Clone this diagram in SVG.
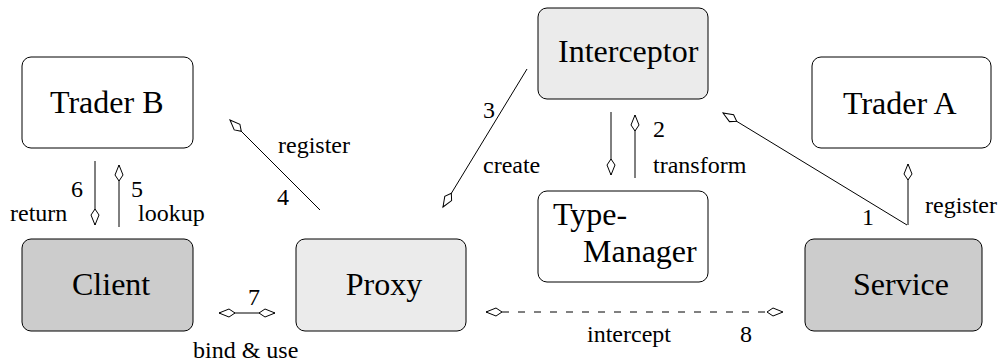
<svg xmlns="http://www.w3.org/2000/svg" width="1001" height="363" viewBox="0 0 1001 363">
<style>
.box{stroke:#000;stroke-width:1;}
.w{fill:#fff;}
.g1{fill:#ebebeb;}
.g2{fill:#cccccc;}
.c{stroke:#000;stroke-width:1;fill:none;}
.d{stroke-dasharray:7 9;}
</style>
<defs>
<marker id="ah" markerUnits="userSpaceOnUse" markerWidth="20" markerHeight="20" refX="0" refY="0" orient="auto-start-reverse" overflow="visible">
<path d="M0,0 L-10,-4 L-16,0 L-10,4 Z" fill="#fff" stroke="#000" stroke-width="1"/>
</marker>
</defs>
<rect width="1001" height="363" fill="#fff"/>
<g font-family="Liberation Serif, Times New Roman, serif" font-size="32" fill="#000">
<g id="traderB"><rect class="box w" x="22" y="57" width="171" height="91" rx="9"/><text x="50" y="113">Trader B</text></g>
<g id="client"><rect class="box g2" x="22" y="239" width="171" height="92" rx="9"/><text x="72" y="295">Client</text></g>
<g id="proxy"><rect class="box g1" x="296" y="239" width="170" height="92" rx="9"/><text x="384" y="295" text-anchor="middle">Proxy</text></g>
<g id="interceptor"><rect class="box g1" x="538" y="8" width="170" height="91" rx="9"/><text x="558" y="62">Interceptor</text></g>
<g id="typemanager"><rect class="box w" x="538" y="191" width="170" height="91" rx="9"/><text x="553" y="225">Type-</text><text x="583" y="262">Manager</text></g>
<g id="traderA"><rect class="box w" x="812" y="57" width="179" height="91" rx="9"/><text x="843" y="114">Trader A</text></g>
<g id="service"><rect class="box g2" x="805" y="239" width="177" height="92" rx="9"/><text x="853" y="295">Service</text></g>
</g>
<g id="connectors" font-family="Liberation Serif, Times New Roman, serif" font-size="24" fill="#000">
<line class="c" x1="95" y1="161" x2="95" y2="225" marker-end="url(#ah)"/>
<line class="c" x1="119" y1="227" x2="119" y2="165" marker-end="url(#ah)"/>
<line class="c" x1="320" y1="210" x2="230" y2="120" marker-end="url(#ah)"/>
<line class="c" x1="219" y1="313" x2="275" y2="313" marker-start="url(#ah)" marker-end="url(#ah)"/>
<line class="c" x1="527" y1="69" x2="443" y2="207" marker-end="url(#ah)"/>
<line class="c" x1="611" y1="112" x2="611" y2="175" marker-end="url(#ah)"/>
<line class="c" x1="635" y1="178" x2="635" y2="115" marker-end="url(#ah)"/>
<line class="c d" x1="486" y1="312" x2="783" y2="312" marker-start="url(#ah)" marker-end="url(#ah)"/>
<line class="c" x1="907" y1="225" x2="723" y2="113" marker-end="url(#ah)"/>
<line class="c" x1="908" y1="225" x2="908" y2="164" marker-end="url(#ah)"/>
<text x="71" y="197">6</text>
<text x="131" y="197">5</text>
<text x="10" y="221">return</text>
<text x="138" y="221">lookup</text>
<text x="278" y="153">register</text>
<text x="277" y="205">4</text>
<text x="248" y="305">7</text>
<text x="193" y="358">bind &amp; use</text>
<text x="483" y="118">3</text>
<text x="483" y="173">create</text>
<text x="653" y="137">2</text>
<text x="653" y="173">transform</text>
<text x="587" y="342">intercept</text>
<text x="740" y="342">8</text>
<text x="862" y="225">1</text>
<text x="925" y="213">register</text>
</g>
</svg>
